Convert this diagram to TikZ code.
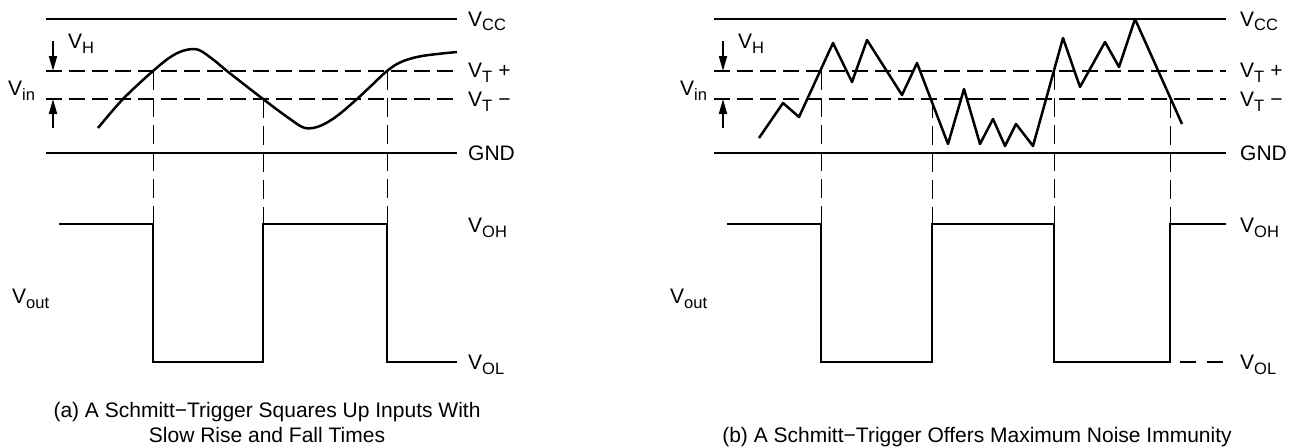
\documentclass[tikz,border=0pt]{standalone}
\usepackage{fontspec}
\setmainfont{Liberation Sans}
\usetikzlibrary{arrows.meta}
\newcommand\Vsb[1]{V\raisebox{-5pt}{\fontsize{16.5}{16.5}\selectfont #1}}
\begin{document}
\begin{tikzpicture}[x=1pt,y=-1pt,
  lvl/.style={line width=2.5pt},
  thr/.style={line width=2.5pt, dash pattern=on 16pt off 7pt},
  guide/.style={line width=0.9pt, dash pattern=on 19pt off 8pt},
  wave/.style={line width=2.5pt, line join=round},
  sqw/.style={line width=2.5pt, line join=miter},
  harrow/.style={line width=2pt, -{Triangle[length=15pt,width=8pt]}},
  lab/.style={anchor=base west, inner sep=0pt, font=\fontsize{21}{21}\selectfont},
  capt/.style={anchor=base, inner sep=0pt, align=center, font=\fontsize{21}{25}\selectfont}]
\useasboundingbox (0,0) rectangle (1289,447);

% ---------------- panel (a) ----------------
\draw[lvl] (46,19) -- (457,19);
\draw[thr] (46,71) -- (457,71);
\draw[thr] (46,99) -- (457,99);
\draw[lvl] (46,153) -- (457,153);
\draw[harrow] (53,41) -- (53,71);
\draw[harrow] (53,128) -- (53,99);
\draw[wave] plot[smooth, tension=0.55] coordinates {(98,128) (123,99) (153,71) (172,56) (186,50) (199,50) (215,61) (227,71) (263,99) (290,119) (305,128) (320,126) (337,116) (357,99) (372,85) (387,71) (401,62) (422,56) (457,52)};
\draw[guide] (153,71) -- (153,224);
\draw[guide] (263,99) -- (263,224);
\draw[guide] (387,71) -- (387,224);
\draw[sqw] (59,224) -- (153,224) -- (153,362) -- (263,362) -- (263,224) -- (387,224) -- (387,362) -- (457,362);
\node[lab] (aVcc) at (468,26) {\Vsb{CC}};
\node[lab] (aVtp) at (468,77) {\Vsb{T}\hspace{6pt}+};
\node[lab] (aVtm) at (468,106) {\Vsb{T}\hspace{6pt}−};
\node[lab] (aGnd) at (468,160) {GND};
\node[lab] (aVoh) at (468,232) {\Vsb{OH}};
\node[lab] (aVol) at (468,369) {\Vsb{OL}};
\node[lab] (aVh) at (68,48) {\Vsb{H}};
\node[lab] (aVin) at (8,95) {\Vsb{in}};
\node[lab] (aVout) at (12,303) {\Vsb{out}};
\node[capt] (acap) at (267,442) {(a) A Schmitt−Trigger Squares Up Inputs With\\Slow Rise and Fall Times};

% ---------------- panel (b) ----------------
\draw[lvl] (714,19) -- (1226,19);
\draw[thr] (714,71) -- (1226,71);
\draw[thr] (714,99) -- (1226,99);
\draw[lvl] (714,153) -- (1226,153);
\draw[harrow] (723,41) -- (723,71);
\draw[harrow] (723,128) -- (723,99);
\draw[wave] (759,138) -- (783,103) -- (799,117) -- (833,43) -- (852,82) -- (867,40) -- (902,95) -- (917,63) -- (948,144) -- (964,89) -- (980,144) -- (993,119) -- (1005,146) -- (1016,124) -- (1033,146) -- (1063,38) -- (1080,87) -- (1105,42) -- (1119,67) -- (1135,19) -- (1182,124);
\draw[guide] (821,71) -- (821,224);
\draw[guide] (932,99) -- (932,224);
\draw[guide] (1054,71) -- (1054,224);
\draw[guide] (1170,99) -- (1170,224);
\draw[sqw] (727,224) -- (821,224) -- (821,362) -- (932,362) -- (932,224) -- (1054,224) -- (1054,362) -- (1170,362) -- (1170,224) -- (1226,224);
\draw[line width=1.2pt] (1180,362) -- (1196,362);
\draw[line width=1.2pt] (1207,362) -- (1223,362);
\node[lab] (bVcc) at (1240,26) {\Vsb{CC}};
\node[lab] (bVtp) at (1240,77) {\Vsb{T}\hspace{6pt}+};
\node[lab] (bVtm) at (1240,106) {\Vsb{T}\hspace{6pt}−};
\node[lab] (bGnd) at (1240,160) {GND};
\node[lab] (bVoh) at (1240,232) {\Vsb{OH}};
\node[lab] (bVol) at (1240,369) {\Vsb{OL}};
\node[lab] (bVh) at (738,48) {\Vsb{H}};
\node[lab] (bVin) at (680,95) {\Vsb{in}};
\node[lab] (bVout) at (670,303) {\Vsb{out}};
\node[capt] (bcap) at (977,442) {(b) A Schmitt−Trigger Offers Maximum Noise Immunity};
\end{tikzpicture}
\end{document}
